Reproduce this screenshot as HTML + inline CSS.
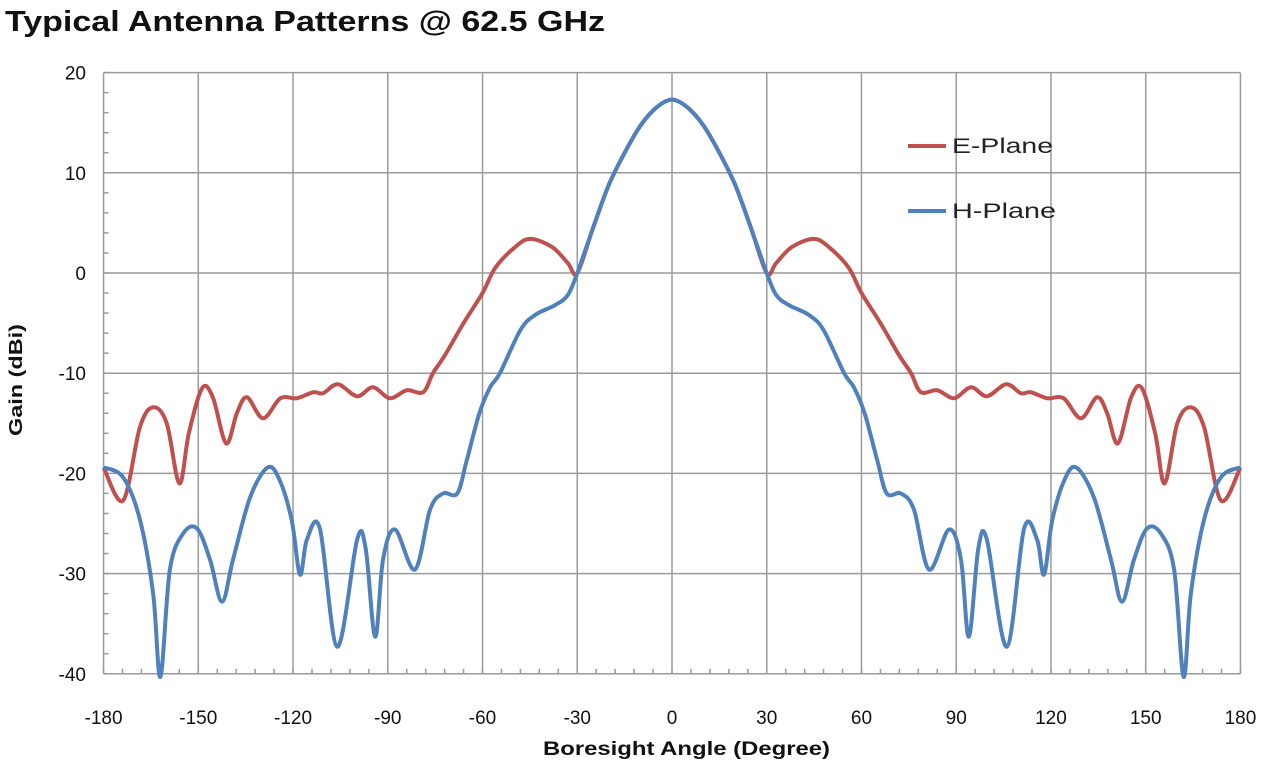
<!DOCTYPE html>
<html><head><meta charset="utf-8"><style>
html,body{margin:0;padding:0;background:#fff;}
svg text{font-family:"Liberation Sans",sans-serif;}
</style></head><body>
<svg id="s" width="1280" height="771" viewBox="0 0 1280 771" xmlns="http://www.w3.org/2000/svg">
<text x="5" y="31" font-size="29" font-weight="bold" fill="#111" textLength="600" lengthAdjust="spacingAndGlyphs">Typical Antenna Patterns @ 62.5 GHz</text>
<g id="grid" stroke="#9a9a9a" stroke-width="1.5"></g>
<g id="lbl" font-size="19" fill="#111"></g>
<text x="543" y="755" font-size="19" font-weight="bold" fill="#111" textLength="287" lengthAdjust="spacingAndGlyphs">Boresight Angle (Degree)</text>
<text transform="translate(22,380) rotate(-90)" font-size="18" font-weight="bold" text-anchor="middle" fill="#111" textLength="112" lengthAdjust="spacingAndGlyphs">Gain (dBi)</text>
<path id="e" fill="none" stroke="#c0504d" stroke-width="4" stroke-linejoin="round"/>
<path id="h" fill="none" stroke="#4f81bd" stroke-width="4" stroke-linejoin="round"/>
<line x1="908" y1="146" x2="946" y2="146" stroke="#c0504d" stroke-width="4"/>
<text x="952" y="153" font-size="21" fill="#222" textLength="101" lengthAdjust="spacingAndGlyphs">E-Plane</text>
<line x1="908" y1="211" x2="946" y2="211" stroke="#4f81bd" stroke-width="4"/>
<text x="952" y="218" font-size="21" fill="#222" textLength="104" lengthAdjust="spacingAndGlyphs">H-Plane</text>
</svg>
<script>
var X=function(d){return 672+d*3.158}, Y=function(v){return 273-v*10.02};
var g=document.getElementById('grid'),l=document.getElementById('lbl'),ns='http://www.w3.org/2000/svg';
function el(p,t,a){var e=document.createElementNS(ns,t);for(var k in a)e.setAttribute(k,a[k]);p.appendChild(e);return e;}
for(var d=-180;d<=180;d+=30){el(g,'line',{x1:X(d),x2:X(d),y1:Y(20),y2:Y(-40)});var t=el(l,'text',{x:X(d),y:724,'text-anchor':'middle'});t.textContent=d;}
for(var v=-40;v<=20;v+=10){el(g,'line',{x1:X(-180),x2:X(180),y1:Y(v),y2:Y(v)});var t=el(l,'text',{x:86,y:Y(v)+7,'text-anchor':'end'});t.textContent=v;}
for(var v=-40;v<=20;v+=2){el(g,'line',{x1:X(-180),x2:X(-180)+5,y1:Y(v),y2:Y(v)});}
for(var d=-180;d<=180;d+=6){el(g,'line',{x1:X(d),x2:X(d),y1:Y(-40),y2:Y(-40)-5});}
var main=[[-30,0],[-25,4.5],[-20,8.8],[-15,12],[-10,14.7],[-5,16.5],[0,17.3]];
var eL=[[-180,-19.4],[-173.8,-22.7],[-168.5,-15.4],[-164.3,-13.4],[-160,-15],[-156,-21],[-153,-16],[-148.8,-11.5],[-145.4,-12.4],[-141.2,-17],[-137.8,-14],[-134.6,-12.4],[-129.5,-14.5],[-124,-12.5],[-118.8,-12.5],[-113.6,-11.9],[-110.5,-12],[-105.8,-11.1],[-99.7,-12.3],[-94.7,-11.4],[-89.3,-12.5],[-84,-11.7],[-78.8,-11.9],[-75.7,-10],[-71.9,-8.2],[-66,-5],[-60,-2],[-56,0.5],[-50,2.5],[-45,3.4],[-38,2.6],[-33,1]].concat(main);
var hL=[[-180,-19.4],[-173.8,-20.4],[-168.5,-24.6],[-164.3,-32],[-162,-40.3],[-159,-29.6],[-154.8,-26],[-150.4,-25.5],[-146.3,-28.6],[-142.5,-32.8],[-139,-28.6],[-133.6,-22.4],[-128,-19.4],[-124.2,-20.7],[-120.4,-24.7],[-117.8,-30.1],[-115.6,-26.6],[-111.5,-25.5],[-106,-37.3],[-99.7,-26.6],[-97,-27.5],[-94,-36.3],[-91.5,-28.6],[-87.7,-25.6],[-81.4,-29.6],[-76.6,-23.6],[-72.5,-22],[-68,-22],[-65,-18.7],[-61,-14],[-57.6,-11.4],[-54.5,-10],[-48,-5.7],[-43.4,-4.2],[-37,-3.2],[-33,-2.2]].concat(main);
function mirror(a){var r=a.slice();for(var i=a.length-2;i>=0;i--)r.push([-a[i][0],a[i][1]]);return r;}
function path(a){var p=a.map(function(q){return [X(q[0]),Y(Math.max(q[1],-40.3))]});var s='M'+p[0][0]+','+p[0][1];
for(var i=0;i<p.length-1;i++){var p0=p[i-1]||p[i],p1=p[i],p2=p[i+1],p3=p[i+2]||p2;
s+=' C'+(p1[0]+(p2[0]-p0[0])/6)+','+(p1[1]+(p2[1]-p0[1])/6)+' '+(p2[0]-(p3[0]-p1[0])/6)+','+(p2[1]-(p3[1]-p1[1])/6)+' '+p2[0]+','+p2[1];}return s;}
document.getElementById('e').setAttribute('d',path(mirror(eL)));
document.getElementById('h').setAttribute('d',path(mirror(hL)));
</script>
</body></html>
